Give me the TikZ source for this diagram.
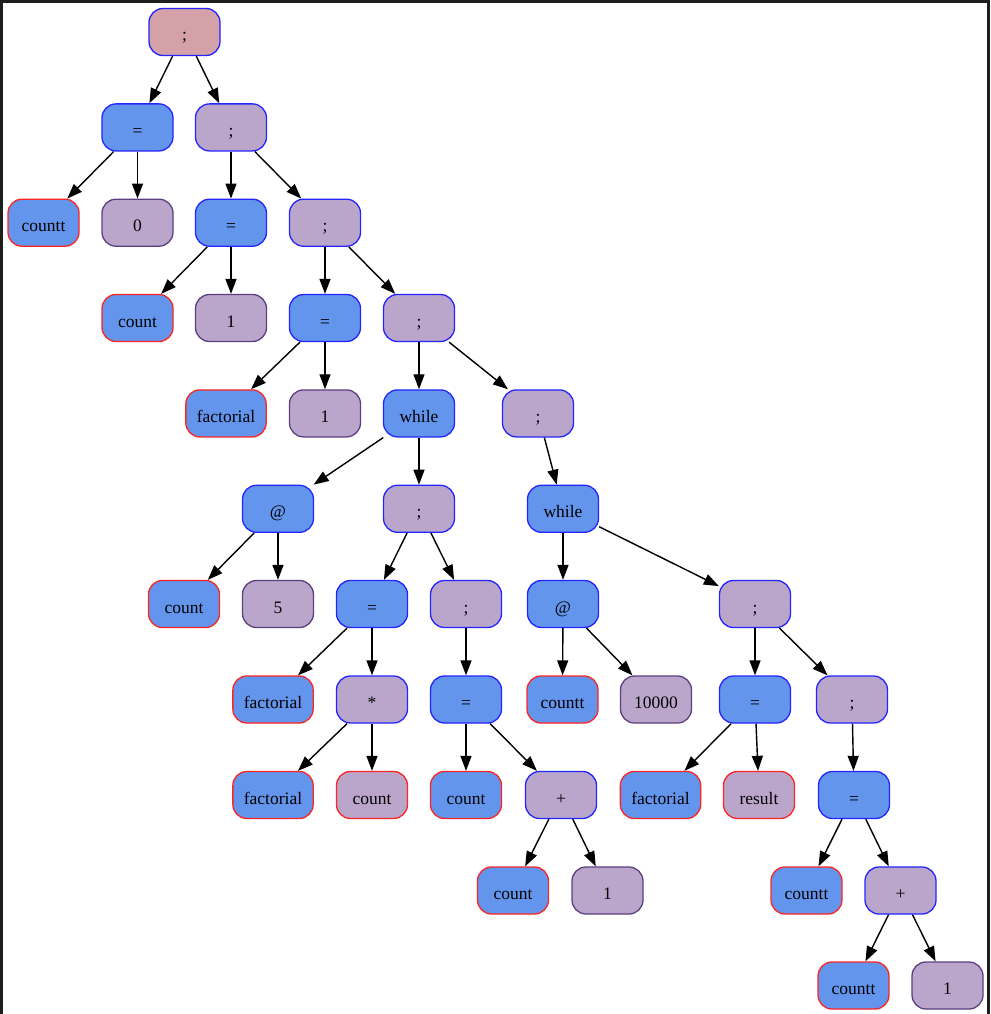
\documentclass[tikz,border=0pt]{standalone}
\usepackage{fontspec}
\setmainfont{Liberation Serif}
\usetikzlibrary{arrows.meta}
\definecolor{cblue}{HTML}{6495ED}
\definecolor{cpurp}{HTML}{BAA6CB}
\definecolor{cpink}{HTML}{D4A1A8}
\definecolor{bblue}{HTML}{2424FF}
\definecolor{bred}{HTML}{FF2424}
\definecolor{bpurp}{HTML}{5C3F80}
\definecolor{frame}{HTML}{1E1E1E}
\tikzset{
  box/.style={rectangle, rounded corners=14pt, minimum width=71pt, minimum height=47pt,
    inner xsep=11pt, inner ysep=0pt, text height=18pt, text depth=0pt,
    line width=1.3pt, font=\fontsize{17.5}{20}\selectfont, text=black},
  bb/.style={box, fill=cblue, draw=bblue},
  pb/.style={box, fill=cpurp, draw=bblue},
  br/.style={box, fill=cblue, draw=bred},
  pr/.style={box, fill=cpurp, draw=bred},
  pp/.style={box, fill=cpurp, draw=bpurp},
  rt/.style={box, fill=cpink, draw=bblue},
  edge/.style={draw=black, line width=1.4pt, -{Triangle[length=15pt,width=11pt]}}
}
\begin{document}
\begin{tikzpicture}[x=1pt,y=-1pt]
\useasboundingbox (0,0) rectangle (990,1014);
\fill[frame] (0,0) rectangle (990,1014);
\fill[white] (3,3) rectangle (987,1014);
% rows
\def\ra{32}\def\rb{127.4}\def\rc{222.7}\def\rd{318}\def\re{413.4}\def\rf{508.8}
\def\rg{604}\def\rh{699.5}\def\ri{795}\def\rj{890.5}\def\rk{985.5}
\node[rt] (r)  at (184.5,\ra) {;};
\node[bb] (a1) at (137.5,\rb) {=};
\node[pb] (a2) at (231,\rb) {;};
\node[br] (b1) at (43.5,\rc) {countt};
\node[pp] (b2) at (137.5,\rc) {0};
\node[bb] (b3) at (231,\rc) {=};
\node[pb] (b4) at (325,\rc) {;};
\node[br] (c1) at (137.5,\rd) {count};
\node[pp] (c2) at (231,\rd) {1};
\node[bb] (c3) at (325,\rd) {=};
\node[pb] (c4) at (419,\rd) {;};
\node[br] (d1) at (226,\re) {factorial};
\node[pp] (d2) at (325,\re) {1};
\node[bb] (d3) at (419,\re) {while};
\node[pb] (d4) at (538,\re) {;};
\node[bb] (e1) at (278,\rf) {@};
\node[pb] (e2) at (419,\rf) {;};
\node[bb] (e3) at (563,\rf) {while};
\node[br] (f1) at (184,\rg) {count};
\node[pp] (f2) at (278,\rg) {5};
\node[bb] (f3) at (372,\rg) {=};
\node[pb] (f4) at (466,\rg) {;};
\node[bb] (f5) at (563,\rg) {@};
\node[pb] (f6) at (755,\rg) {;};
\node[br] (g1) at (273,\rh) {factorial};
\node[pb] (g2) at (372,\rh) {*};
\node[bb] (g3) at (466,\rh) {=};
\node[br] (g4) at (562.5,\rh) {countt};
\node[pp] (g5) at (656,\rh) {10000};
\node[bb] (g6) at (755,\rh) {=};
\node[pb] (g7) at (852,\rh) {;};
\node[br] (h1) at (273,\ri) {factorial};
\node[pr] (h2) at (372,\ri) {count};
\node[br] (h3) at (466,\ri) {count};
\node[pb] (h4) at (561,\ri) {+};
\node[br] (h5) at (660.5,\ri) {factorial};
\node[pr] (h6) at (759,\ri) {result};
\node[bb] (h7) at (854,\ri) {=};
\node[br] (i1) at (513,\rj) {count};
\node[pp] (i2) at (607.5,\rj) {1};
\node[br] (i3) at (806.5,\rj) {countt};
\node[pb] (i4) at (900.5,\rj) {+};
\node[br] (j1) at (853.5,\rk) {countt};
\node[pp] (j2) at (947.5,\rk) {1};
% edges
\foreach \p/\c in {r/a1,r/a2,a1/b1,a1/b2,a2/b3,a2/b4,b3/c1,b3/c2,b4/c3,b4/c4,
  c3/d1,c3/d2,c4/d3,c4/d4,d3/e1,d3/e2,d4/e3,e1/f1,e1/f2,e2/f3,e2/f4,e3/f5,e3/f6,
  f3/g1,f3/g2,f4/g3,f5/g4,f5/g5,f6/g6,f6/g7,g2/h1,g2/h2,g3/h3,g3/h4,g6/h5,g6/h6,g7/h7,
  h4/i1,h4/i2,h7/i3,h7/i4,i4/j1,i4/j2}
  \draw[edge] (\p) -- (\c);
\end{tikzpicture}
\end{document}
